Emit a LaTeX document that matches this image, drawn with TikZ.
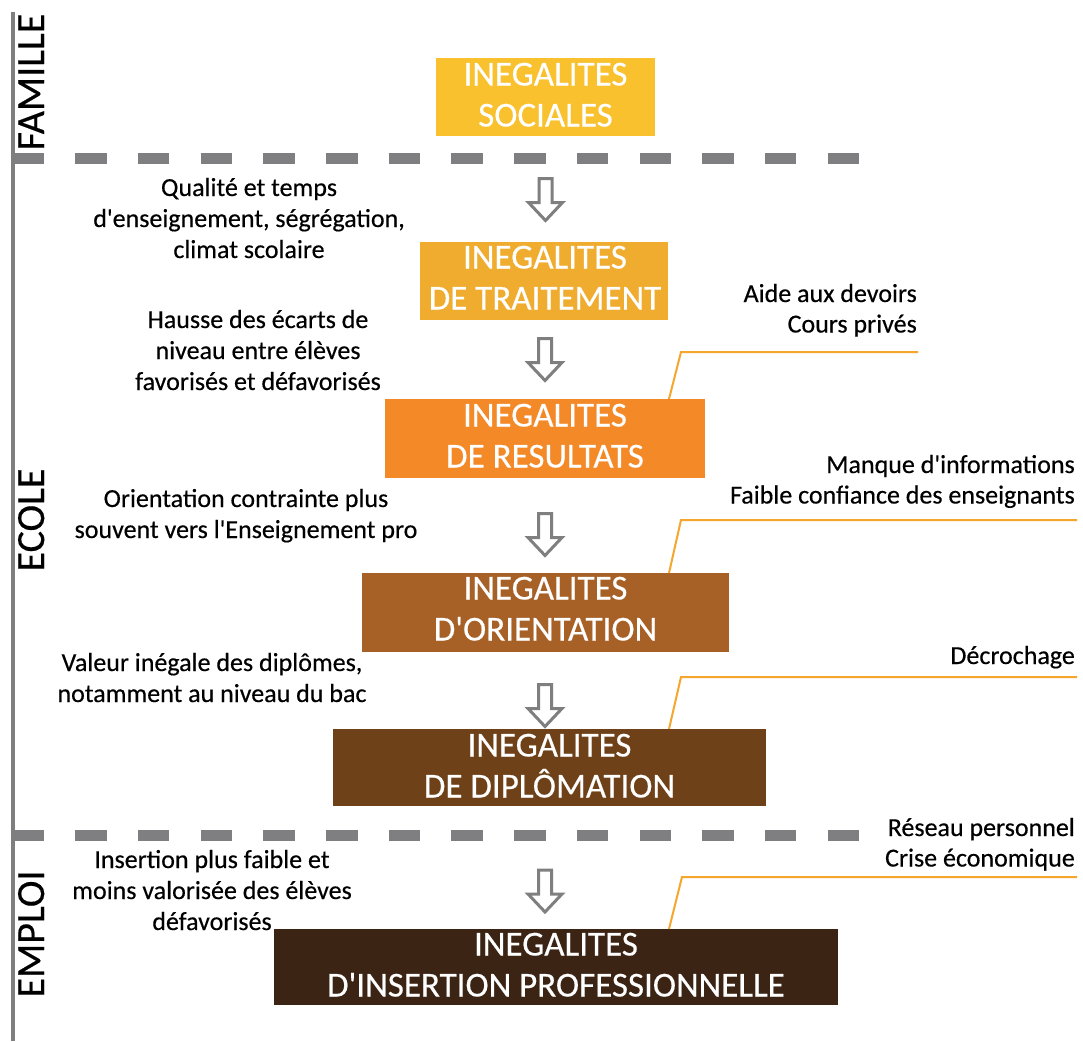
\documentclass[tikz,border=0pt]{standalone}
\usepackage{fontspec}
\setmainfont{Carlito}[Ligatures=TeXOff,FakeBold=0.4]
\definecolor{cA}{HTML}{F8C12D}
\definecolor{cB}{HTML}{F0AC2E}
\definecolor{cC}{HTML}{F38927}
\definecolor{cD}{HTML}{A76127}
\definecolor{cE}{HTML}{6E4119}
\definecolor{cF}{HTML}{3B2414}
\definecolor{lineorange}{HTML}{F4A72C}
\definecolor{sepgray}{HTML}{7F7F82}
\definecolor{arrgray}{HTML}{7F7F7F}
\begin{document}
\begin{tikzpicture}[x=1pt,y=-1pt,
  boxfill/.style={draw=none,inner sep=0pt,outer sep=0pt},
  boxtext/.style={text=white,font=\fontsize{35}{41}\selectfont,align=flush center,text width=600pt,inner sep=0pt,anchor=base},
  lefttext/.style={text=black,font=\fontsize{26}{31}\selectfont,align=flush center,text width=420pt,inner sep=0pt,anchor=base},
  righttext/.style={text=black,font=\fontsize{26}{30.5}\selectfont,align=flush right,text width=420pt,inner sep=0pt,anchor=base east},
  sidelabel/.style={text=black,font=\fontsize{40}{48}\selectfont,inner sep=0pt,anchor=base,rotate=90},
  sepline/.style={draw=sepgray,line width=11pt,dash pattern=on 31.5pt off 31.2pt},
  conn/.style={draw=lineorange,line width=2pt},
  arrowstyle/.style={draw=arrgray,fill=white,line width=3pt,line join=miter},
  barrow/.pic={\path[arrowstyle] (-6.5,0) -- (6.5,0) -- (6.5,24) -- (17,24) -- (0,42) -- (-17,24) -- (-6.5,24) -- cycle;}
]
\useasboundingbox (0,0) rectangle (1083,1041);
\fill[white] (0,0) rectangle (1083,1041);

% left rule and separators
\draw[draw=arrgray,line width=4pt] (13,12) -- (13,1041);
\draw[sepline] (12.5,158.5) -- (861,158.5);
\draw[sepline] (12.5,835.5) -- (861,835.5);

% side labels
\node[sidelabel] (famille) at (44,82) {FAMILLE};
\node[sidelabel] (ecole) at (44,520) {ECOLE};
\node[sidelabel] (emploi) at (44,934) {EMPLOI};

% boxes
\node[boxfill,fill=cA,minimum width=219pt,minimum height=78pt] (b1) at (545.5,97) {};
\node[boxfill,fill=cB,minimum width=248pt,minimum height=78pt] (b2) at (544,281) {};
\node[boxfill,fill=cC,minimum width=320pt,minimum height=79pt] (b3) at (545,438.5) {};
\node[boxfill,fill=cD,minimum width=367pt,minimum height=79pt] (b4) at (545.5,612.5) {};
\node[boxfill,fill=cE,minimum width=433pt,minimum height=77pt] (b5) at (549.5,767.5) {};
\node[boxfill,fill=cF,minimum width=564pt,minimum height=76pt] (b6) at (556,967) {};

\node[boxtext] (t1) at (545.5,85.5) {INEGALITES\\SOCIALES};
\node[boxtext] (t2) at (545,268.5) {INEGALITES\\DE TRAITEMENT};
\node[boxtext] (t3) at (545,426.5) {INEGALITES\\DE RESULTATS};
\node[boxtext] (t4) at (545.5,599.5) {INEGALITES\\D'ORIENTATION};
\node[boxtext] (t5) at (549.5,756.5) {INEGALITES\\DE DIPLÔMATION};
\node[boxtext] (t6) at (556,955.5) {INEGALITES\\D'INSERTION PROFESSIONNELLE};

% hollow arrows
\pic at (545.5,178.5) {barrow};
\pic at (545,338.5) {barrow};
\pic at (545,513.5) {barrow};
\pic at (545,684.5) {barrow};
\pic at (545,870) {barrow};

% left explanations
\node[lefttext] (l1) at (249,196) {Qualité et temps\\d'enseignement, ségrégation,\\climat scolaire};
\node[lefttext] (l2) at (258,328) {Hausse des écarts de\\niveau entre élèves\\favorisés et défavorisés};
\node[lefttext] (l3) at (246,507) {Orientation contrainte plus\\souvent vers l'Enseignement pro};
\node[lefttext] (l4) at (212,671) {Valeur inégale des diplômes,\\notamment au niveau du bac};
\node[lefttext] (l5) at (212,868) {Insertion plus faible et\\moins valorisée des élèves\\défavorisés};

% right explanations
\node[righttext] (r1) at (917,302) {Aide aux devoirs\\Cours privés};
\node[righttext] (r2) at (1075,473) {Manque d'informations\\Faible confiance des enseignants};
\node[righttext] (r3) at (1075,664) {Décrochage};
\node[righttext] (r4) at (1075,836) {Réseau personnel\\Crise économique};

% orange leader lines
\coordinate (k1) at (681,352); \coordinate (e1) at (918,352);
\coordinate (k2) at (681,520); \coordinate (e2) at (1077,520);
\coordinate (k3) at (681,677); \coordinate (e3) at (1077,677);
\coordinate (k4) at (682,877); \coordinate (e4) at (1077,877);
\draw[conn] (669,0 |- b3.north) -- (k1) -- (e1);
\draw[conn] (669,0 |- b4.north) -- (k2) -- (e2);
\draw[conn] (669,0 |- b5.north) -- (k3) -- (e3);
\draw[conn] (669,0 |- b6.north) -- (k4) -- (e4);
\end{tikzpicture}
\end{document}
